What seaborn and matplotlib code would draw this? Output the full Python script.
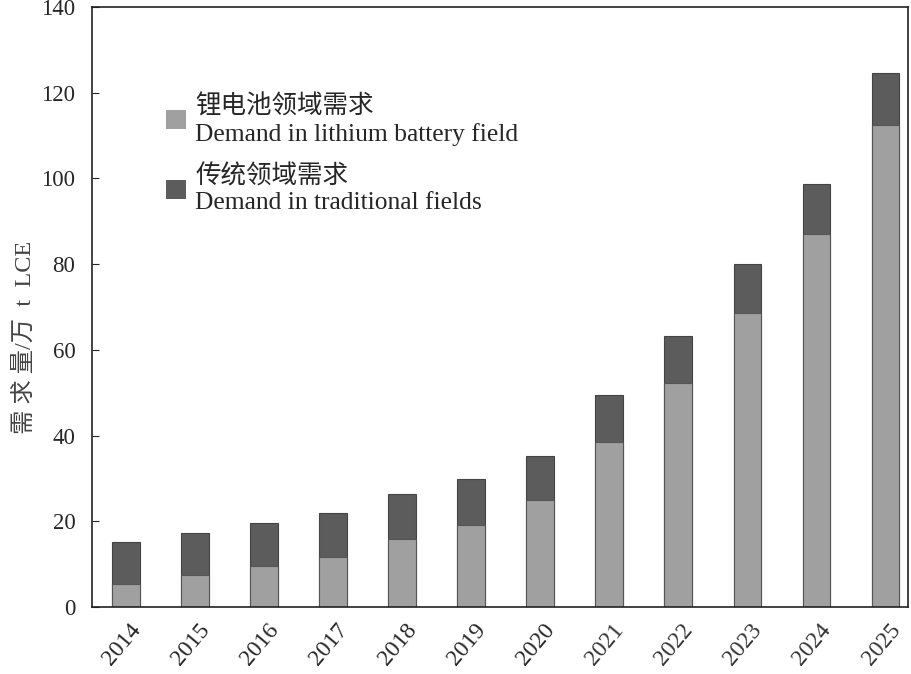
import matplotlib
matplotlib.use('Agg')

import pandas as pd
import numpy as np
from matplotlib import pyplot as plt
from matplotlib import transforms
from matplotlib.patches import Patch
import seaborn as sns

years = ['2014', '2015', '2016', '2017', '2018', '2019', '2020',
         '2021', '2022', '2023', '2024', '2025']
battery = [5.4, 7.4, 9.6, 11.7, 15.9, 19.2, 24.9, 38.6, 52.2, 68.7, 87.1, 112.5]
total = [15.2, 17.3, 19.7, 21.9, 26.4, 29.9, 35.2, 49.4, 63.3, 80.0, 98.8, 124.6]

light = '#a0a0a0'
dark = '#5c5c5c'

sns.set_style('ticks')
plt.rcParams['font.family'] = ['Liberation Serif', 'Noto Sans CJK SC', 'DejaVu Sans']

df = pd.DataFrame({'year': years, 'battery': battery, 'total': total})

fig = plt.figure(figsize=(9.11, 6.74), dpi=100)
ax = fig.add_axes([0.101, 0.0994, 0.896, 0.8902])

# dark bar = total, light bar drawn over it
sns.barplot(data=df, x='year', y='total', color=dark, width=0.4,
            edgecolor='#444444', linewidth=0.8, saturation=1, ax=ax)
sns.barplot(data=df, x='year', y='battery', color=light, width=0.4,
            edgecolor='#555555', linewidth=0.8, saturation=1, ax=ax)

ax.set_xlim(-0.49, 11.33)
ax.set_ylim(0, 140)
ax.set_yticks(np.arange(0, 141, 20))
ax.tick_params(axis='y', direction='in', length=5, labelsize=16.5, pad=12)
ax.tick_params(axis='x', length=0, labelsize=17, pad=9)
shift = transforms.ScaledTranslation(3 / 100, 0, fig.dpi_scale_trans)
for lab in ax.get_xticklabels():
    lab.set_rotation(50)
    lab.set_ha('right')
    lab.set_rotation_mode('anchor')
    lab.set_transform(lab.get_transform() + shift)
for lab in ax.get_xticklabels()[7:]:
    lab.set_color('#333333')

ax.set_xlabel('')
ax.set_ylabel('需 求 量/万  t  LCE', fontsize=17.5, color='#444444')
ax.yaxis.set_label_coords(-0.069, 0.45)
for s in ax.spines.values():
    s.set_color('#222222')
    s.set_linewidth(1.2)

handles = [Patch(facecolor=light, edgecolor='none'), Patch(facecolor=dark, edgecolor='none')]
labels = ['锂电池领域需求\nDemand in lithium battery field',
          '传统领域需求\nDemand in traditional fields']
ax.legend(handles, labels, loc='upper left', bbox_to_anchor=(0.063, 0.892),
          frameon=False, fontsize=18.4, handlelength=0.76, handleheight=0.76,
          handletextpad=0.36, labelspacing=0.75)

plt.savefig('out.png', dpi=100)
